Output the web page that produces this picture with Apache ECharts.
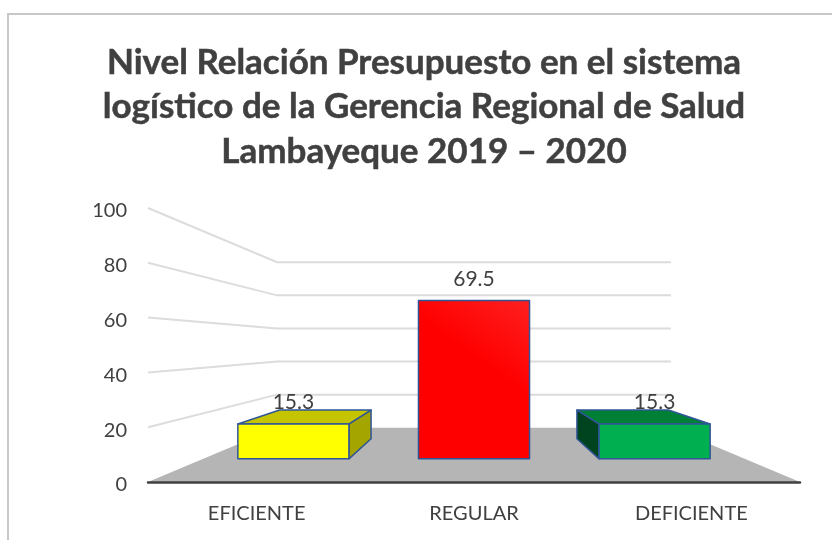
<!DOCTYPE html>
<html>
<head>
<meta charset="utf-8">
<style>html,body{margin:0;padding:0;background:#fff}#c{width:832px;height:540px}</style>
<script src="https://cdn.jsdelivr.net/npm/echarts@6/dist/echarts.min.js"></script>
</head>
<body>
<div id="c"></div>
<script>
var categories = ['EFICIENTE', 'REGULAR', 'DEFICIENTE'];
var values = [15.3, 69.5, 15.3];
var yTicks = [0, 20, 40, 60, 80, 100];
var titleText = 'Nivel Relación Presupuesto en el sistema\nlogístico de la Gerencia Regional de Salud\nLambayeque 2019 – 2020';

var frontColors = ['#FFFF00', '#FF0000', '#00B050'];
var frontHighlights = ['#FFFF00', '#FF2020', '#00B050'];
var topColors = ['#C4C400', '#C00000', '#008037'];
var sideColors = ['#A5A500', '#A00000', '#00431F'];
var outline = '#2F5597';
var textColor = '#404040';
var font = 'Lato';

// perspective depth: 0 = front plane of the axes, 1 = vanishing point
var DEPTH_BAR_FRONT = 0.169, DEPTH_BAR_BACK = 0.316, DEPTH_WALL = 0.396;
var BAR_WIDTH_RATIO = 0.615;

function vanish(api) { return api.coord([1, 50]); }
function proj(p, t, vp) { return [p[0] + (vp[0] - p[0]) * t, p[1] + (vp[1] - p[1]) * t]; }

function renderWalls(params, api) {
  var v = api.value(1), cs = params.coordSys, vp = vanish(api);
  var y = api.coord([0, v])[1];
  var fl = [cs.x, y], fr = [cs.x + cs.width, y];
  var bl = proj(fl, DEPTH_WALL, vp), br = proj(fr, DEPTH_WALL, vp);
  if (v === 0) {
    return { type: 'polygon', shape: { points: [fl, bl, br, fr] }, style: { fill: '#B5B5B5' } };
  }
  return {
    type: 'polyline',
    shape: { points: [fl, bl, br] },
    style: { fill: 'none', stroke: '#DCDCDC', lineWidth: 2 }
  };
}

function renderBars(params, api) {
  var i = api.value(0), v = api.value(1), vp = vanish(api);
  var c = api.coord([i, 0]), t = api.coord([i, v]);
  var half = api.size([1, 0])[0] * BAR_WIDTH_RATIO / 2;
  function pt(xs, ys, d) { return proj([c[0] + xs * half, ys ? t[1] : c[1]], d, vp); }
  var F = DEPTH_BAR_FRONT, B = DEPTH_BAR_BACK;
  var flb = pt(-1, 0, F), frb = pt(1, 0, F), frt = pt(1, 1, F), flt = pt(-1, 1, F);
  var blb = pt(-1, 0, B), brb = pt(1, 0, B), brt = pt(1, 1, B), blt = pt(-1, 1, B);
  var line = { stroke: outline, lineWidth: 1.5, lineJoin: 'round' };
  function face(points, fill) {
    return { type: 'polygon', shape: { points: points }, style: Object.assign({ fill: fill }, line) };
  }
  var kids = [];
  if (blt[1] < flt[1]) kids.push(face([flt, frt, brt, blt], topColors[i]));
  if (brb[0] > frb[0]) kids.push(face([frb, brb, brt, frt], sideColors[i]));
  if (blb[0] < flb[0]) kids.push(face([flb, blb, blt, flt], sideColors[i]));
  kids.push(face([flb, frb, frt, flt], {
    type: 'linear', x: 0, y: 1, x2: 1, y2: 0,
    colorStops: [
      { offset: 0, color: frontColors[i] },
      { offset: 0.6, color: frontColors[i] },
      { offset: 1, color: frontHighlights[i] }
    ]
  }));
  kids.push({
    type: 'text',
    style: {
      x: (flt[0] + frt[0]) / 2, y: flt[1] - 11,
      text: String(v), fill: textColor, font: '21px ' + font,
      textAlign: 'center', textVerticalAlign: 'bottom'
    }
  });
  return { type: 'group', children: kids };
}

var chart = echarts.init(document.getElementById('c'), null, { renderer: 'canvas' });
chart.setOption({
  animation: false,
  backgroundColor: '#ffffff',
  textStyle: { fontFamily: font },
  title: {
    text: titleText, left: 419, top: 35, textAlign: 'center',
    textStyle: {
      color: textColor, fontFamily: font, fontWeight: 'bold', fontSize: 35, lineHeight: 44.5,
      textBorderColor: textColor, textBorderWidth: 0.5
    }
  },
  graphic: [{
    type: 'polyline', silent: true,
    shape: { points: [[8, 540], [8, 14], [832, 14]] },
    style: { fill: 'none', stroke: '#C8C8C8', lineWidth: 2 }
  }],
  grid: { left: 148, right: 32, top: 208, bottom: 58, containLabel: false },
  xAxis: {
    type: 'category', data: categories,
    axisTick: { show: false },
    axisLine: { lineStyle: { color: '#404040', width: 2.5, cap: 'round' } },
    axisLabel: { color: textColor, fontFamily: font, fontSize: 20, margin: 22 },
    z: 5
  },
  yAxis: {
    type: 'value', min: 0, max: 100, interval: 20,
    axisLine: { show: false }, axisTick: { show: false }, splitLine: { show: false },
    axisLabel: {
      margin: 21, formatter: '{n|{value}}',
      rich: { n: { color: textColor, fontFamily: font, fontSize: 20, padding: [6, 0, 0, 0] } }
    }
  },
  series: [
    {
      type: 'custom', name: 'walls', coordinateSystem: 'cartesian2d', silent: true, clip: false,
      renderItem: renderWalls,
      data: yTicks.map(function (v) { return [0, v]; }),
      z: 1
    },
    {
      type: 'custom', name: 'Nivel', coordinateSystem: 'cartesian2d', clip: false,
      renderItem: renderBars,
      data: values.map(function (v, i) { return [i, v]; }),
      z: 2
    }
  ]
});
</script>
</body>
</html>
